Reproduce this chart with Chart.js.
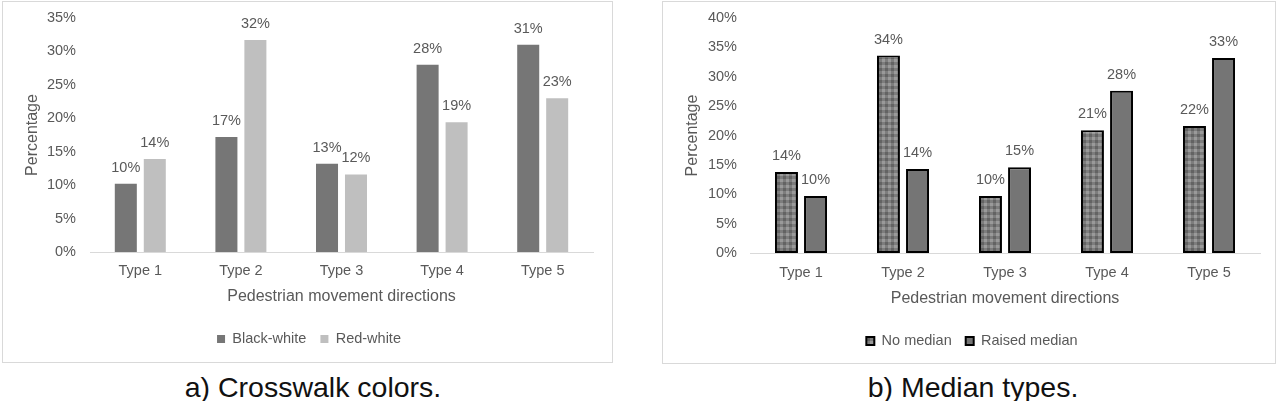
<!DOCTYPE html>
<html>
<head>
<meta charset="utf-8">
<script src="https://cdn.jsdelivr.net/npm/chart.js@4.4.1/dist/chart.umd.min.js"></script>
<style>
  body { margin: 0; background: #fff; width: 1280px; height: 401px; position: relative; overflow: hidden; font-family: 'Liberation Sans', Arial, sans-serif; }
  .panel { position: absolute; top: 1px; border: 1px solid #d9d9d9; }
  #panelA { left: 2px; width: 609px; height: 360px; }
  #panelB { left: 662px; width: 612px; height: 361px; }
  canvas { display: block; }
  .caption { position: absolute; top: 371px; font-size: 28.5px; line-height: 32px; color: #111; transform: translateX(-50%); white-space: nowrap; }
</style>
</head>
<body>
<div class="panel" id="panelA"><canvas id="chartA" width="609" height="360"></canvas></div>
<div class="panel" id="panelB"><canvas id="chartB" width="612" height="361"></canvas></div>
<div class="caption" style="left:313px">a) Crosswalk colors.</div>
<div class="caption" style="left:973px">b) Median types.</div>
<script>
const categories = ['Type 1', 'Type 2', 'Type 3', 'Type 4', 'Type 5'];
const blackWhite = [10.2, 17.2, 13.2, 28.0, 31.0];
const redWhite = [13.9, 31.7, 11.6, 19.4, 23.0];
const noMedian = [13.8, 33.6, 9.7, 20.9, 21.6];
const raisedMedian = [9.7, 14.3, 14.6, 27.6, 33.2];

const textColor = '#595959';
Chart.defaults.font.family = "'Liberation Sans', Arial, sans-serif";
Chart.defaults.font.size = 14.5;
Chart.defaults.color = textColor;

// value labels above each bar, placed from the bar elements
const barValueLabels = {
    id: 'barValueLabels',
    afterDatasetsDraw(chart) {
        const ctx = chart.ctx;
        ctx.save();
        ctx.font = "14.5px 'Liberation Sans', Arial, sans-serif";
        ctx.fillStyle = textColor;
        ctx.textAlign = 'center';
        ctx.textBaseline = 'middle';
        chart.data.datasets.forEach((ds, i) => {
            chart.getDatasetMeta(i).data.forEach((bar, j) => {
                ctx.fillText(Math.round(ds.data[j]) + '%', bar.x, bar.y - 16);
            });
        });
        ctx.restore();
    }
};

// gingham fill for "No median"
function plaidPattern() {
    const c = document.createElement('canvas');
    c.width = 6;
    c.height = 6;
    const p = c.getContext('2d');
    p.fillStyle = '#9a9a9a';
    p.fillRect(0, 0, 6, 6);
    p.fillStyle = '#7d7d7d';
    p.fillRect(0, 0, 6, 3);
    p.fillRect(0, 0, 3, 6);
    p.fillStyle = '#636363';
    p.fillRect(0, 0, 3, 3);
    return p.createPattern(c, 'repeat');
}

function axes(maxY, cfg) {
    return {
        x: {
            grid: { display: false, drawTicks: false },
            border: { display: true, color: '#d9d9d9', width: 1 },
            ticks: { padding: cfg.xTickPad },
            title: { display: true, text: 'Pedestrian movement directions', font: { size: 16 }, padding: { top: 0, bottom: 12 } },
            afterFit: (s) => { s.height = cfg.xHeight; }
        },
        y: {
            min: 0,
            max: maxY,
            grid: { display: false, drawTicks: false },
            border: { display: false },
            ticks: { stepSize: 5, padding: cfg.yTickPad, callback: (v) => v + '%' },
            title: { display: true, text: 'Percentage', font: { size: 16, lineHeight: 1 }, padding: { top: cfg.yTitlePad, bottom: 0 } },
            afterFit: (s) => {
                s.width = cfg.yWidth;
                // let layout.padding alone decide the top of the plot
                s.paddingTop = 0;
                s.paddingBottom = 0;
            }
        }
    };
}

const legendOpts = {
    position: 'bottom',
    labels: { boxWidth: 8, boxHeight: 8, padding: 14, color: textColor, font: { size: 14.5 } }
};

new Chart(document.getElementById('chartA'), {
    type: 'bar',
    data: {
        labels: categories,
        datasets: [{
            label: 'Black-white',
            data: blackWhite,
            backgroundColor: '#767676',
            borderWidth: 0,
            categoryPercentage: 0.576,
            barPercentage: 0.76
        }, {
            label: 'Red-white',
            data: redWhite,
            backgroundColor: '#bfbfbf',
            borderWidth: 0,
            categoryPercentage: 0.576,
            barPercentage: 0.76
        }]
    },
    options: {
        responsive: false,
        animation: false,
        layout: { padding: { top: 16, right: 19, bottom: 5.75, left: 22 } },
        plugins: { legend: legendOpts, tooltip: { enabled: false } },
        scales: axes(35, { xTickPad: 10, xHeight: 65.75, yTickPad: 14, yTitlePad: 0, yWidth: 65 })
    },
    plugins: [barValueLabels]
});

new Chart(document.getElementById('chartB'), {
    type: 'bar',
    data: {
        labels: categories,
        datasets: [{
            label: 'No median',
            data: noMedian,
            backgroundColor: plaidPattern(),
            borderColor: '#000',
            borderWidth: 2,
            borderSkipped: false,
            categoryPercentage: 0.57,
            barPercentage: 0.79
        }, {
            label: 'Raised median',
            data: raisedMedian,
            backgroundColor: '#757575',
            borderColor: '#000',
            borderWidth: 2,
            borderSkipped: false,
            categoryPercentage: 0.57,
            barPercentage: 0.79
        }]
    },
    options: {
        responsive: false,
        animation: false,
        layout: { padding: { top: 16, right: 15, bottom: 4.75, left: 21 } },
        plugins: { legend: legendOpts, tooltip: { enabled: false } },
        scales: axes(40, { xTickPad: 11, xHeight: 66.75, yTickPad: 13, yTitlePad: 1, yWidth: 66 })
    },
    plugins: [barValueLabels]
});
</script>
</body>
</html>
